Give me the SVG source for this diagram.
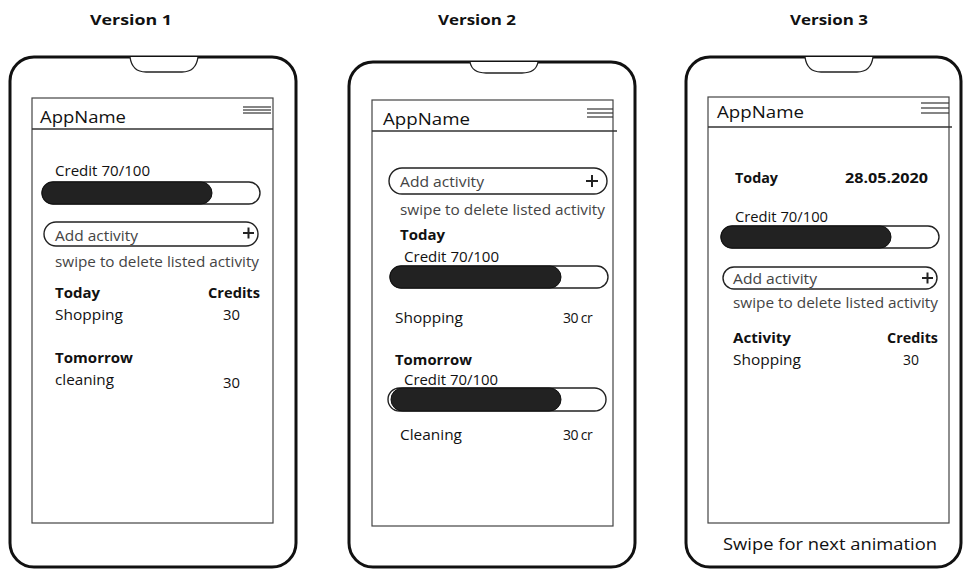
<svg xmlns="http://www.w3.org/2000/svg" width="963" height="570" viewBox="0 0 963 570">
<style>
.bg{fill:#fff}
.phone{fill:#fff;stroke:#111;stroke-width:3}
.notch{fill:#fff;stroke:#222;stroke-width:1.3}
.screen{fill:#fff;stroke:#444;stroke-width:1.2}
.line{stroke:#333;stroke-width:1.3;fill:none}
.ham{stroke:#333;stroke-width:1.2}
.bar{fill:#fff;stroke:#222;stroke-width:1.4}
.fill{fill:#222;stroke:#111;stroke-width:1}
.pill{fill:#fff;stroke:#222;stroke-width:1.4}
.plus{stroke:#222;stroke-width:2}
text{font-family:"Open Sans","Noto Sans","DejaVu Sans",sans-serif;fill:#111}
.t{font-size:14px}
.b{font-size:14px;font-weight:bold}
.app{font-size:17px}
.title{font-size:15px;font-weight:bold}
.g{fill:#444}
.cr{font-size:14px;letter-spacing:-0.6px}
</style>
<rect class="bg" x="0" y="0" width="963" height="570"/>

<g id="titles">
<text class="title" x="90" y="25" textLength="82" lengthAdjust="spacingAndGlyphs">Version 1</text>
<text class="title" x="438" y="25" textLength="78" lengthAdjust="spacingAndGlyphs">Version 2</text>
<text class="title" x="790" y="25" textLength="78" lengthAdjust="spacingAndGlyphs">Version 3</text>
</g>

<g id="phone1">
<rect class="phone" x="10" y="57" width="286" height="510" rx="24"/>
<path class="notch" d="M130,57 Q132,72 146,72 L182,72 Q196,72 198,57"/>
<rect class="screen" x="32" y="98" width="241" height="425"/>
<line class="line" x1="32" y1="129" x2="273" y2="129"/>
<line class="ham" x1="243" y1="107" x2="271" y2="107"/>
<line class="ham" x1="243" y1="110" x2="271" y2="110"/>
<line class="ham" x1="243" y1="113" x2="271" y2="113"/>
<text class="app" x="40" y="123" textLength="86" lengthAdjust="spacingAndGlyphs">AppName</text>
<text class="t" x="55" y="176" textLength="95" lengthAdjust="spacingAndGlyphs">Credit 70/100</text>
<rect class="bar" x="42" y="182" width="218" height="22" rx="11"/>
<rect class="fill" x="42" y="182" width="170" height="22" rx="11"/>
<rect class="pill" x="44" y="222" width="214" height="24" rx="12"/>
<text class="t g" x="55" y="241" textLength="83" lengthAdjust="spacingAndGlyphs">Add activity</text>
<line class="plus" x1="243" y1="233" x2="254" y2="233"/>
<line class="plus" x1="248.5" y1="227.5" x2="248.5" y2="238.5"/>
<text class="t g" x="55" y="267" textLength="204" lengthAdjust="spacingAndGlyphs">swipe to delete listed activity</text>
<text class="b" x="55" y="298" textLength="45" lengthAdjust="spacingAndGlyphs">Today</text>
<text class="b" x="208" y="298" textLength="52" lengthAdjust="spacingAndGlyphs">Credits</text>
<text class="t" x="55" y="320" textLength="68" lengthAdjust="spacingAndGlyphs">Shopping</text>
<text class="t" x="223" y="320" textLength="17" lengthAdjust="spacingAndGlyphs">30</text>
<text class="b" x="55" y="363" textLength="78" lengthAdjust="spacingAndGlyphs">Tomorrow</text>
<text class="t" x="55" y="385" textLength="59" lengthAdjust="spacingAndGlyphs">cleaning</text>
<text class="t" x="223" y="388" textLength="17" lengthAdjust="spacingAndGlyphs">30</text>
</g>

<g id="phone2">
<rect class="phone" x="349" y="62" width="286" height="505" rx="24"/>
<path class="notch" d="M470,62 Q472,73 486,73 L522,73 Q536,73 538,62"/>
<rect class="screen" x="372" y="100" width="241" height="426"/>
<line class="line" x1="372" y1="131" x2="617" y2="131"/>
<line class="ham" x1="587" y1="109" x2="613" y2="109"/>
<line class="ham" x1="587" y1="113" x2="613" y2="113"/>
<line class="ham" x1="587" y1="117" x2="613" y2="117"/>
<text class="app" x="383" y="125" textLength="87" lengthAdjust="spacingAndGlyphs">AppName</text>
<rect class="pill" x="389" y="168" width="218" height="26" rx="13"/>
<text class="t g" x="400" y="187" textLength="84" lengthAdjust="spacingAndGlyphs">Add activity</text>
<line class="plus" x1="586" y1="181" x2="598" y2="181"/>
<line class="plus" x1="592" y1="175" x2="592" y2="187"/>
<text class="t g" x="400" y="215" textLength="205" lengthAdjust="spacingAndGlyphs">swipe to delete listed activity</text>
<text class="b" x="400" y="240" textLength="45" lengthAdjust="spacingAndGlyphs">Today</text>
<text class="t" x="404" y="262" textLength="95" lengthAdjust="spacingAndGlyphs">Credit 70/100</text>
<rect class="bar" x="390" y="266" width="218" height="22" rx="11"/>
<rect class="fill" x="390" y="266" width="171" height="22" rx="11"/>
<text class="t" x="395" y="323" textLength="68" lengthAdjust="spacingAndGlyphs">Shopping</text>
<text class="cr" x="563" y="323">30 cr</text>
<text class="b" x="395" y="365" textLength="77" lengthAdjust="spacingAndGlyphs">Tomorrow</text>
<text class="t" x="404" y="385" textLength="94" lengthAdjust="spacingAndGlyphs">Credit 70/100</text>
<rect class="bar" x="388" y="388" width="218" height="23" rx="11.5"/>
<rect class="fill" x="391" y="388" width="170" height="23" rx="11.5"/>
<text class="t" x="400" y="440" textLength="62" lengthAdjust="spacingAndGlyphs">Cleaning</text>
<text class="cr" x="563" y="440">30 cr</text>
</g>

<g id="phone3">
<rect class="phone" x="686" y="57" width="275" height="510" rx="24"/>
<path class="notch" d="M805,57 Q807,72 821,72 L857,72 Q871,72 873,57"/>
<rect class="screen" x="708" y="97" width="241" height="426"/>
<line class="line" x1="708" y1="127" x2="952" y2="127"/>
<line class="ham" x1="921" y1="103" x2="949" y2="103"/>
<line class="ham" x1="921" y1="108" x2="949" y2="108"/>
<line class="ham" x1="921" y1="113" x2="949" y2="113"/>
<text class="app" x="717" y="118" textLength="87" lengthAdjust="spacingAndGlyphs">AppName</text>
<text class="b" x="735" y="183" textLength="43" lengthAdjust="spacingAndGlyphs">Today</text>
<text class="b" x="845" y="183" textLength="83" lengthAdjust="spacingAndGlyphs">28.05.2020</text>
<text class="t" x="735" y="222" textLength="93" lengthAdjust="spacingAndGlyphs">Credit 70/100</text>
<rect class="bar" x="721" y="226" width="218" height="22" rx="11"/>
<rect class="fill" x="721" y="226" width="170" height="22" rx="11"/>
<rect class="pill" x="723" y="267" width="214" height="22" rx="11"/>
<text class="t g" x="733" y="284" textLength="84" lengthAdjust="spacingAndGlyphs">Add activity</text>
<line class="plus" x1="922" y1="278" x2="933" y2="278"/>
<line class="plus" x1="927.5" y1="272.5" x2="927.5" y2="283.5"/>
<text class="t g" x="733" y="308" textLength="205" lengthAdjust="spacingAndGlyphs">swipe to delete listed activity</text>
<text class="b" x="733" y="343" textLength="58" lengthAdjust="spacingAndGlyphs">Activity</text>
<text class="b" x="887" y="343" textLength="51" lengthAdjust="spacingAndGlyphs">Credits</text>
<text class="t" x="733" y="365" textLength="68" lengthAdjust="spacingAndGlyphs">Shopping</text>
<text class="t" x="903" y="365" textLength="16" lengthAdjust="spacingAndGlyphs">30</text>
<text class="app" x="723" y="550" textLength="214" lengthAdjust="spacingAndGlyphs">Swipe for next animation</text>
</g>
</svg>
